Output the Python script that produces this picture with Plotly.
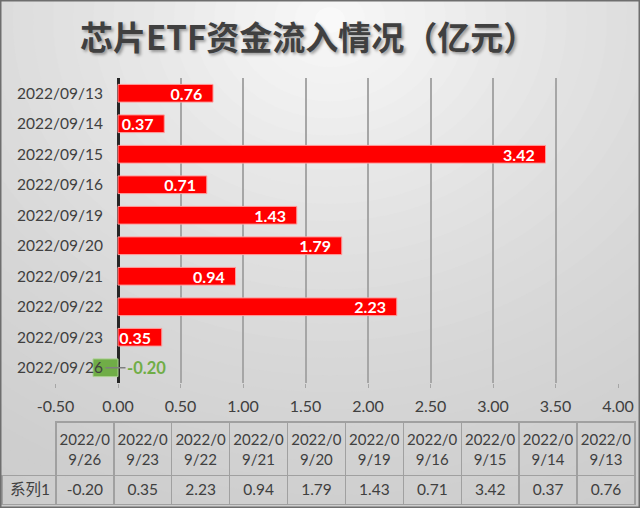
import plotly.graph_objects as go

# ---------------- data ----------------
DATES = ["2022/09/13", "2022/09/14", "2022/09/15", "2022/09/16", "2022/09/19",
         "2022/09/20", "2022/09/21", "2022/09/22", "2022/09/23", "2022/09/26"]
VALUES = [0.76, 0.37, 3.42, 0.71, 1.43, 1.79, 0.94, 2.23, 0.35, -0.20]
SERIES_NAME = "系列1"
X_TICKS = [-0.5, 0.0, 0.5, 1.0, 1.5, 2.0, 2.5, 3.0, 3.5, 4.0]
TITLE = "芯片ETF资金流入情况（亿元）"

# ---------------- layout constants ----------------
W, H = 640, 508
ML, MR = 2, 5
PW = W - ML - MR
XR = [-0.5, 4.0]
DX = [(55.5 - ML) / PW, (618 - ML) / PW]
DY = [1 - 383 / H, 1 - 78 / H]
Y_POS = DX[0] + (0 - XR[0]) / (XR[1] - XR[0]) * (DX[1] - DX[0])

RED, GREEN = "#FF0000", "#70AD47"
TXT = "#404040"
FONT = "Lato, 'Noto Sans CJK SC', sans-serif"

fig = go.Figure()

bar_colors = [RED if v >= 0 else GREEN for v in VALUES]
line_colors = ["#FF9A9A" if v >= 0 else "#A9D08E" for v in VALUES]
bar_text = [f"{v:.2f}\u00a0\u00a0" if v >= 0 else "" for v in VALUES]

fig.add_trace(go.Bar(
    orientation="h", x=VALUES, y=DATES,
    marker=dict(color=bar_colors, line=dict(color=line_colors, width=1)),
    width=0.58,
    text=bar_text, textposition="inside", insidetextanchor="end",
    textfont=dict(color="white", size=16, family=FONT, weight="bold"),
    constraintext="none", hoverinfo="skip", showlegend=False,
))


def split_label(d):
    l1, l2 = d[:6], d[6:]
    pad = "\u2007" * ((len(l1) - len(l2)) // 2)
    return l1 + "<br>" + pad + l2


# table
hdr = [""] + [split_label(d) for d in DATES[::-1]]
cells = [[SERIES_NAME]] + [[f"{v:.2f}"] for v in VALUES[::-1]]
GRID = "#A0A0A0"
fig.add_trace(go.Table(
    domain=dict(x=[0, 1], y=[0, 1 - 422 / H]),
    columnwidth=[54] + [58] * len(DATES),
    header=dict(values=hdr, height=43, align="center",
                font=dict(family=FONT, size=15, color=TXT),
                fill=dict(color="rgba(0,0,0,0)"),
                line=dict(color=["rgba(0,0,0,0)"] + [GRID] * len(DATES), width=1.5)),
    cells=dict(values=cells, height=29, align=["left"] + ["center"] * len(DATES),
               font=dict(family=FONT, size=15.5, color=TXT),
               fill=dict(color="rgba(0,0,0,0)"),
               line=dict(color=GRID, width=1.5)),
))

# negative value labels with leader lines
annotations = []
for d, v in zip(DATES, VALUES):
    if v < 0:
        annotations.append(dict(
            x=v / 2, y=d, xref="x", yref="y", text=f"<b>{v:.2f}</b>",
            showarrow=True, arrowhead=0, arrowwidth=1.5, arrowcolor="#7F7F7F",
            ax=41, ay=0, font=dict(family=FONT, size=16.5, color=GREEN),
        ))

annotations.append(dict(
    x=(308 - ML) / PW, y=1 - 36 / H, xref="paper", yref="paper",
    text=TITLE, showarrow=False, xanchor="center", yanchor="middle",
    font=dict(family="'Noto Sans CJK SC', sans-serif", size=33, color=TXT,
              weight="bold", shadow="2px 2px 3px rgba(0,0,0,0.35)"),
))

# background radial-ish gradient (concentric ellipses), and frame
shapes = []
N = 36
CX, CY = 330, 20
for i in range(N):
    t = i / (N - 1)              # 0 outer -> 1 inner
    r = 720 * (1 - t) + 15 * t
    c = int(204 + (249 - 204) * t ** 1.6)
    col = f"rgb({c},{c},{c})"
    shapes.append(dict(
        type="circle", xref="paper", yref="paper", layer="below",
        x0=(CX - r - ML) / PW, x1=(CX + r - ML) / PW,
        y0=1 - (CY + r * 0.85) / H, y1=1 - (CY - r * 0.85) / H,
        fillcolor=col, line=dict(width=0),
    ))
shapes.append(dict(
    type="rect", xref="paper", yref="paper", layer="above",
    x0=(0.75 - ML) / PW, x1=(W - 0.75 - ML) / PW, y0=0.75 / H, y1=1 - 0.75 / H,
    line=dict(color="#6E6E6E", width=1.5), fillcolor="rgba(0,0,0,0)",
))

fig.update_layout(
    width=W, height=H,
    margin=dict(l=ML, r=MR, t=0, b=0, pad=0, autoexpand=False),
    paper_bgcolor="rgb(204,204,204)", plot_bgcolor="rgba(0,0,0,0)",
    bargap=0.42,
    font=dict(family=FONT, size=16, color=TXT),
    shapes=shapes, annotations=annotations,
    xaxis=dict(domain=DX, range=XR, tickvals=X_TICKS,
               ticktext=[f"{v:.2f}" for v in X_TICKS],
               showgrid=True, gridcolor="#A6A6A6", gridwidth=1.5,
               zeroline=True, zerolinecolor="#262626", zerolinewidth=3,
               showline=False, ticks="outside", ticklen=4, tickcolor="#A6A6A6",
               tickfont=dict(family=FONT, size=16, color=TXT),
               ticklabelstandoff=5, fixedrange=True, automargin=False),
    yaxis=dict(domain=DY, type="category", categoryorder="array",
               categoryarray=DATES, autorange="reversed",
               anchor="free", position=Y_POS, showgrid=False, zeroline=False,
               showline=False, ticks="",
               tickfont=dict(family=FONT, size=15.5, color=TXT),
               ticklabelstandoff=15, fixedrange=True, automargin=False),
)

fig.write_html("out.html")
